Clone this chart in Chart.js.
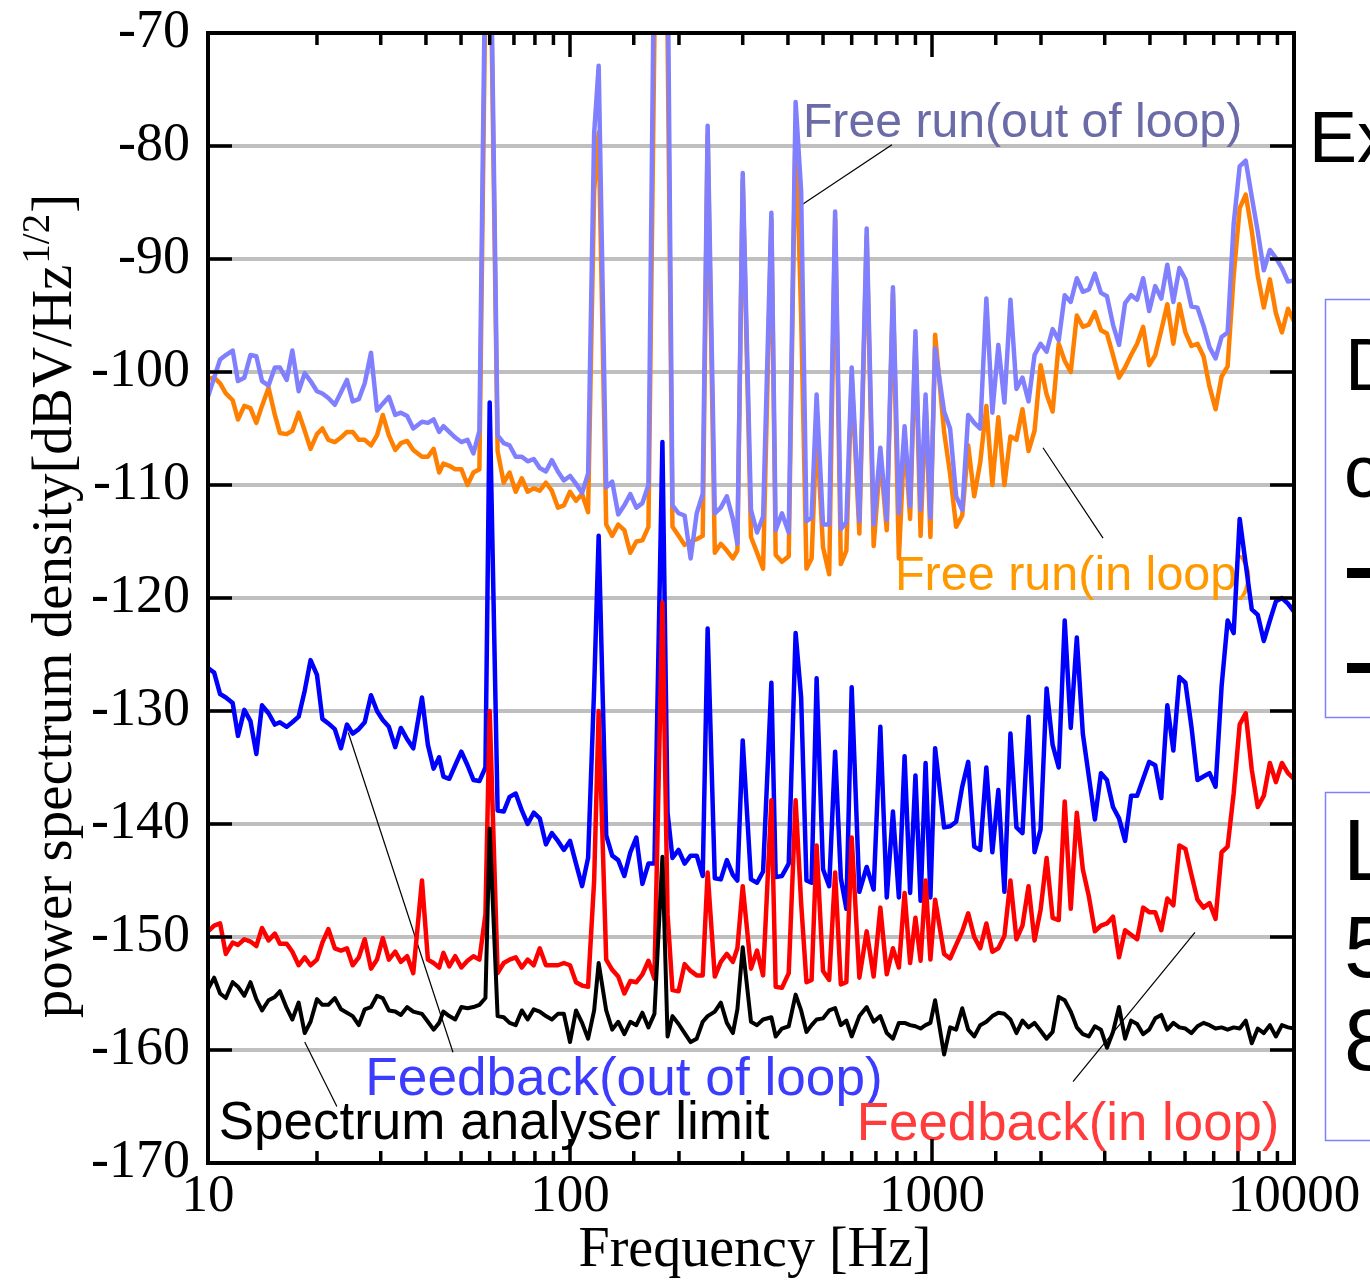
<!DOCTYPE html>
<html>
<head>
<meta charset="utf-8">
<title>Power spectrum density</title>
<script src="https://cdn.jsdelivr.net/npm/chart.js"></script>
<style>
  html, body { margin: 0; padding: 0; background: #fff; }
  canvas { display: block; }
</style>
</head>
<body>
<canvas id="psd" width="1370" height="1281"></canvas>
<script>
// frequency grid shared by every trace [Hz]
const freqHz = [
  10, 10.4, 10.8, 11.2, 11.7, 12.1, 12.6, 13.1, 13.6, 14.1,
  14.7, 15.3, 15.8, 16.5, 17.1, 17.8, 18.5, 19.2, 20, 20.7,
  21.5, 22.4, 23.3, 24.2, 25.1, 26.1, 27.1, 28.2, 29.3, 30.4,
  31.6, 32.9, 34.1, 35.5, 36.9, 39, 40.5, 42, 43.5, 44.7,
  46.4, 48.2, 50.1, 52.1, 54.1, 56.2, 58.4, 60, 63.1, 65.6,
  68.1, 70.8, 73.6, 76.4, 79.4, 82.5, 85.8, 89.1, 92.6, 96.2,
  100, 103.9, 108, 112.2, 116.6, 120, 125.9, 130.8, 135.9, 141.3,
  146.8, 152.5, 158.5, 164.7, 171.1, 180, 186, 191.9, 199.5, 207.3,
  215.4, 223.9, 232.6, 240, 251.2, 261, 271.2, 281.8, 290, 300,
  316.2, 328.6, 341.5, 360, 370, 385, 402, 420, 435, 450,
  465, 480, 500, 520, 540, 560, 580, 600, 630, 660,
  690, 720, 750, 780, 810, 840, 870, 900, 930, 960,
  990, 1020, 1080, 1122, 1166, 1212, 1259, 1308, 1359, 1413,
  1468, 1525, 1585, 1647, 1711, 1778, 1848, 1920, 1995, 2073,
  2154, 2239, 2326, 2417, 2512, 2610, 2712, 2818, 2929, 3043,
  3162, 3286, 3415, 3548, 3687, 3831, 3981, 4137, 4299, 4467,
  4642, 4823, 5012, 5208, 5412, 5623, 5843, 6072, 6310, 6556,
  6813, 7079, 7356, 7644, 7943, 8254, 8577, 8913, 9261, 9624,
  10000
];

// dBV/Hz^1/2, one value per frequency
const freeRunOutLoop = [
  -102.2, -100.5, -98.9, -98.5, -98.1, -100.8, -100.5, -98.5, -98.6, -100.8,
  -101.2, -99.6, -99.6, -100.7, -98.1, -101.7, -100.1, -100.8, -101.7, -101.9,
  -102.3, -102.9, -101.8, -100.7, -102.6, -102.4, -101, -98.3, -103.4, -102.8,
  -102.2, -103.8, -103.6, -103.9, -105, -104.4, -104.5, -104.2, -105.3, -104.8,
  -105.3, -105.8, -106.2, -106, -107.2, -105.2, -62, -55, -105.6, -106.3,
  -106.5, -107.5, -107.5, -107.9, -107.7, -108.5, -108.8, -107.8, -108.8, -109.6,
  -109.2, -109.9, -110.7, -109, -78.9, -72.9, -110.2, -109.7, -112.6, -111.8,
  -110.8, -112, -111.6, -110, -60, -50, -62, -111.8, -112.5, -112.7,
  -116.5, -112.5, -110.8, -78.2, -112.5, -112, -111, -113, -115.2, -82.4,
  -112.2, -114.2, -112.8, -85.9, -114, -112.5, -114.2, -76.1, -84, -113.2,
  -112.9, -102, -113.5, -113.5, -85.8, -113.9, -113.3, -99.6, -113.2, -87.3,
  -113.5, -106.7, -113.1, -92.5, -112.5, -104.8, -111.9, -96.4, -112.2, -102,
  -112.9, -97.9, -103.5, -105, -111, -112.2, -103.8, -104.5, -105, -93.5,
  -103.6, -97.6, -102.7, -93.6, -101.5, -100.5, -102.6, -98.5, -97.5, -98.2,
  -96.2, -97.2, -93.2, -93.8, -91.7, -92.9, -92.7, -91.3, -93, -93.3,
  -95.8, -97.6, -93.9, -93.2, -93.6, -91.7, -94.6, -92.4, -93.5, -90.5,
  -93.8, -90.8, -91.8, -94.2, -94.3, -95.9, -97.8, -98.8, -96.9, -96.5,
  -86.9, -81.8, -81.3, -84.5, -87.6, -91, -89.2, -89.9, -90.8, -92,
  -91.9
];

const freeRunInLoop = [
  -100.6, -100.5, -101, -101.9, -102.5, -104.2, -103, -103.2, -104.5, -103,
  -101.4, -103.8, -105.4, -105.5, -105.2, -103.6, -105.2, -106.8, -105.5, -105,
  -106, -106.2, -105.8, -105.3, -105.3, -106, -106, -106.5, -105.6, -103.8,
  -105.6, -106.9, -106.3, -106.1, -106.9, -107.5, -107.5, -106.8, -108.9, -108.1,
  -108.3, -108.6, -108.6, -110, -108.9, -108.6, -66, -58, -107, -109.8,
  -108.9, -110.6, -109.4, -110.6, -110.3, -110.5, -109.8, -110.5, -112, -111.8,
  -110.6, -111.4, -110.8, -112.4, -84, -78.8, -113.5, -114.5, -113.5, -114,
  -116, -115, -114.9, -113.7, -70, -55, -70, -113.7, -114.5, -115.3,
  -115, -114.8, -114.5, -79, -116, -115.2, -115.8, -116.5, -115.8, -83,
  -114.6, -116, -117.4, -86.5, -116.2, -116.8, -116.3, -78, -95, -117.4,
  -116.5, -105, -115.5, -117.9, -86.5, -117, -115.8, -100.5, -114.3, -88,
  -115.4, -107.5, -114, -93, -116.5, -105.5, -113, -97, -114.5, -102.5,
  -114.6, -96.7, -105.3, -109, -113.7, -112.7, -106.5, -111, -108, -103,
  -110, -104, -110, -105.7, -106, -103.3, -107, -105.2, -99.4, -102,
  -103.5, -97.5, -99, -100, -95, -96, -95.8, -94.7, -96.3, -96.6,
  -98.5, -100.5, -99.6, -98.5, -97.5, -96, -99.4, -98.5, -96.3, -94,
  -97.5, -94, -96.5, -97.7, -97.5, -98.6, -101.3, -103.3, -100.4, -99.5,
  -91.5, -85.5, -84.3, -87.5, -91.5, -94.3, -91.8, -94.8, -96.5, -94.4,
  -95.5
];

const feedbackOutLoop = [
  -126.2, -126.6, -128.5, -128.8, -129.3, -132.2, -129.9, -130.9, -133.8, -129.5,
  -130.2, -131.2, -131, -131.4, -131, -130.5, -128.2, -125.5, -126.8, -130.7,
  -131.1, -131.6, -133.3, -131.2, -132, -131.6, -131, -128.6, -130, -130.8,
  -131.4, -133.2, -131.5, -132.5, -133.3, -128.8, -133, -135.1, -134.1, -135.8,
  -136, -134.8, -133.6, -134.8, -136.1, -136.2, -135, -102.7, -138.8, -138.9,
  -137.6, -137.3, -138.8, -140, -139, -139.5, -141.8, -140.8, -141.5, -142.3,
  -141.5, -143.5, -145.5, -143, -128, -114.5, -141, -142.8, -143.2, -144.6,
  -142.5, -141.2, -145.3, -143.5, -143.5, -106.2, -139, -143, -142.3, -143.5,
  -142.8, -142.8, -144.6, -122.7, -144.8, -144.9, -143.2, -144.5, -145, -132.6,
  -144.9, -145.2, -144.2, -127.5, -144.7, -144.6, -143.5, -123.1, -128.8, -145,
  -145.2, -127.1, -144, -145.5, -133.6, -144.8, -147.5, -127.9, -146, -143.8,
  -145.8, -131.4, -146.5, -138.9, -146.5, -134, -146.1, -135.7, -146.8, -134.6,
  -146.5, -133.3, -140.3, -140.2, -139.8, -136.7, -134.5, -142, -142.3, -135,
  -142.5, -137, -146, -132, -140.3, -140.8, -130.5, -142.5, -140.5, -128,
  -133, -135, -122, -131.5, -123.5, -132, -135.8, -139.6, -135.5, -136.1,
  -138.5, -139.5, -141.5, -137.5, -137.5, -136, -134.5, -134.8, -137.7, -129.5,
  -133.5, -127, -127.5, -131.4, -136.1, -135.8, -135.5, -136.7, -127.8, -122,
  -123.1, -113, -117, -121, -121.5, -123.8, -122, -120.3, -120, -120.5,
  -121.2
];

const feedbackInLoop = [
  -149.5, -149, -148.8, -151.5, -150.5, -150.7, -150.2, -150.4, -150.8, -149.2,
  -150.3, -149.7, -150.6, -150.6, -151.3, -152.5, -151.8, -152.5, -152, -150.5,
  -149.3, -151, -151.2, -151, -152.5, -151.8, -150.2, -152.8, -152, -150.1,
  -152, -151.3, -152.2, -151.7, -153.2, -145, -152, -152.3, -152.7, -151.4,
  -152.6, -151.7, -152.7, -152.1, -151.7, -152, -148, -130, -153.2, -152.3,
  -152, -151.8, -152.7, -152, -152.5, -151, -152.5, -152.5, -152.5, -152.3,
  -152.5, -154, -154.3, -154.4, -145, -130, -152, -152.9, -153.5, -155,
  -153.9, -154, -153.3, -152.1, -153.7, -120.4, -148, -154.7, -154.8, -152.4,
  -153, -153.4, -153.4, -144.3, -153.5, -152.2, -151.5, -152.2, -151, -145.5,
  -152.8, -151.2, -153.4, -137.9, -154.4, -154.5, -153.2, -137.9, -147, -154,
  -153.8, -141.9, -153, -153.8, -144.3, -154.2, -154, -141.2, -153.6, -149.5,
  -153.5, -147.4, -153.3, -151, -152.7, -146.1, -152.3, -148.3, -152.1, -145,
  -152, -146.7, -151.5, -151.9, -150.7, -149.5, -147.9, -150, -151, -148.8,
  -151.3, -151, -149.9, -145, -150.2, -149, -145.5, -150.3, -147.6, -143,
  -148.3, -148.5, -138, -147.5, -139, -144, -146.4, -149.5, -149, -148.8,
  -148.2, -151.8, -149.4, -149.8, -150.2, -147.4, -147.8, -147.8, -149.4, -146.6,
  -147.2, -141.9, -142.2, -144.5, -146.7, -147.4, -147, -148.4, -142.5, -142,
  -137.3, -131.2, -130.2, -135.2, -138.5, -137.5, -134.6, -136.3, -134.6, -135.5,
  -136
];

const analyserLimit = [
  -154.6, -153.6, -155, -155.4, -154, -154.4, -155.2, -154, -155.5, -156.5,
  -155.6, -155.3, -154.8, -156.3, -157.3, -155.8, -158.5, -157.5, -155.5, -156,
  -156, -155.4, -156.4, -156.7, -157, -157.8, -156.4, -156.2, -155.2, -155.4,
  -156.5, -156.6, -156.9, -156.2, -156.6, -156.8, -157.5, -158.2, -157.6, -156.6,
  -157, -157.3, -156.2, -156.3, -156.2, -156, -155.4, -140.4, -157, -157.1,
  -157.6, -157.8, -156.5, -157.3, -156.4, -156.6, -157, -157.3, -156.8, -156.8,
  -159.3, -156.5, -157.6, -159, -156.5, -152.3, -156.5, -158.2, -157.5, -158.6,
  -157.5, -157.8, -156.7, -158, -156.8, -142.9, -158.8, -157, -157.7, -158.5,
  -159.3, -159, -157.5, -157, -156.6, -155.8, -157.6, -158.5, -156.4, -150.9,
  -157.5, -157.8, -157.3, -157.1, -158.8, -158.1, -157.9, -155.1, -156.5, -158.4,
  -157.8, -157.3, -157.2, -156.5, -156.3, -157.8, -157.4, -158.8, -157, -156.2,
  -157.5, -157, -158.5, -159, -157.6, -157.6, -157.8, -157.9, -158.1, -157.8,
  -157.6, -155.6, -160.4, -158, -158.2, -156.3, -158.2, -158.8, -157.8, -157.5,
  -157, -156.7, -156.8, -157.3, -158.5, -157.4, -158, -157.6, -158.3, -159,
  -158.4, -155.3, -155.6, -156.6, -158, -158.6, -158.8, -157.9, -158.2, -159.8,
  -158.4, -156.2, -159, -157.4, -157.7, -158.6, -158.2, -157.2, -156.9, -158.2,
  -157.6, -158, -158.1, -158.5, -157.9, -157.6, -157.8, -158.1, -158, -158.2,
  -158, -158.1, -157.4, -159.4, -158.1, -158.5, -157.8, -158.8, -157.8, -158,
  -158.1
];

// labelled decades on the frequency axis
const xTickLabels = [10, 100, 1000, 10000];

// callouts: text anchor and leader line, in data units (Hz, dB)
const notes = [
  { text: 'Free run(out of loop)', color: '#6b6ba8', size: 48.2, at: [440, -79.2], from: [775, -79.9], to: [437, -85.2] },
  { text: 'Free run(in loop)', color: '#ff9900', size: 48.5, at: [790, -119.3], from: [2026, -106.7], to: [2968, -114.7] },
  { text: 'Feedback(out of loop)', color: '#3c3cff', size: 53.2, at: [27.2, -164.0], from: [24.4, -131.9], to: [47.5, -160.2] },
  { text: 'Spectrum analyser limit', color: '#000000', size: 53, at: [10.7, -167.9], from: [18.5, -159.3], to: [22.7, -165.0] },
  { text: 'Feedback(in loop)', color: '#ff3b3b', size: 52.8, at: [620, -168.0], from: [5327, -149.6], to: [2452, -162.8] }
];

function series(values) {
  return freqHz.map((f, i) => ({ x: f, y: values[i] }));
}

function line(ctx, x1, y1, x2, y2) {
  ctx.beginPath();
  ctx.moveTo(x1, y1);
  ctx.lineTo(x2, y2);
  ctx.stroke();
}

// callouts go under the traces, frame and inward ticks on top
const paperLook = {
  id: 'paperLook',
  beforeDatasetsDraw(chart) {
    const { ctx, scales: { x, y } } = chart;
    ctx.save();
    for (const n of notes) {
      ctx.strokeStyle = '#000';
      ctx.lineWidth = 1.2;
      line(ctx, x.getPixelForValue(n.from[0]), y.getPixelForValue(n.from[1]),
        x.getPixelForValue(n.to[0]), y.getPixelForValue(n.to[1]));
      ctx.font = n.size + 'px "Liberation Sans", Arial, sans-serif';
      ctx.fillStyle = n.color;
      ctx.textAlign = 'left';
      ctx.textBaseline = 'alphabetic';
      ctx.fillText(n.text, x.getPixelForValue(n.at[0]), y.getPixelForValue(n.at[1]));
    }
    ctx.restore();
  },
  afterDatasetsDraw(chart) {
    const { ctx, chartArea: a, scales: { x, y } } = chart;
    ctx.save();
    ctx.strokeStyle = '#000';
    ctx.lineWidth = 4;
    ctx.strokeRect(a.left, a.top, a.right - a.left, a.bottom - a.top);
    ctx.lineWidth = 3.5;
    for (const t of y.ticks) {
      const py = y.getPixelForValue(t.value);
      const len = t.value % 10 === 0 ? 24 : 12;
      line(ctx, a.left, py, a.left + len, py);
      line(ctx, a.right - len, py, a.right, py);
    }
    for (const t of x.ticks) {
      const px = x.getPixelForValue(t.value);
      const major = Math.abs(Math.log10(t.value) - Math.round(Math.log10(t.value))) < 1e-6;
      const len = major ? 24 : 12;
      line(ctx, px, a.bottom, px, a.bottom - len);
      line(ctx, px, a.top, px, a.top + len);
    }
    ctx.restore();
  },
  afterDraw(chart) {
    const { ctx } = chart;
    ctx.save();
    ctx.fillStyle = '#000';
    ctx.textBaseline = 'alphabetic';

    // axis titles
    ctx.font = '56px "Liberation Serif", "Times New Roman", serif';
    ctx.textAlign = 'center';
    ctx.fillText('Frequency [Hz]', 755, 1266);

    const head = 'power spectrum density[dBV/Hz', sup = '1/2', tail = ']';
    const big = '57px "Liberation Serif", "Times New Roman", serif';
    const small = '39px "Liberation Serif", "Times New Roman", serif';
    ctx.font = big;
    const w1 = ctx.measureText(head).width, w3 = ctx.measureText(tail).width;
    ctx.font = small;
    const w2 = ctx.measureText(sup).width;
    ctx.translate(71, 607);
    ctx.rotate(-Math.PI / 2);
    ctx.textAlign = 'left';
    let sx = -(w1 + w2 + w3) / 2;
    ctx.font = big;
    ctx.fillText(head, sx, 0);
    ctx.font = small;
    ctx.fillText(sup, sx + w1 + 1, -22);
    ctx.font = big;
    ctx.fillText(tail, sx + w1 + w2 + 2, 0);
    ctx.setTransform(1, 0, 0, 1, 0, 0);

    // neighbouring panel, cut by the frame edge
    ctx.font = '72px "Liberation Sans", Arial, sans-serif';
    ctx.fillText('Ex', 1309, 162);
    ctx.strokeStyle = '#8080ff';
    ctx.lineWidth = 1.5;
    ctx.strokeRect(1325.5, 299.5, 120, 418);
    ctx.strokeRect(1325.5, 792.5, 120, 348);
    ctx.font = '74px "Liberation Sans", Arial, sans-serif';
    ctx.fillText('D', 1345, 390);
    ctx.fillText('c', 1344, 497);
    ctx.fillRect(1347, 568, 40, 10);
    ctx.fillRect(1347, 663, 40, 10);
    ctx.font = '88px "Liberation Sans", Arial, sans-serif';
    ctx.fillText('L', 1343, 880);
    ctx.fillText('5', 1344, 977);
    ctx.fillText('8', 1344, 1070);
    ctx.restore();
  }
};

const traceStyle = { pointRadius: 0, tension: 0, fill: false, clip: 0, borderJoinStyle: 'round' };

new Chart(document.getElementById('psd'), {
  type: 'line',
  data: {
    datasets: [
      { ...traceStyle, label: 'Spectrum analyser limit', data: series(analyserLimit), borderColor: '#000000', borderWidth: 4 },
      { ...traceStyle, label: 'Feedback(in loop)', data: series(feedbackInLoop), borderColor: '#ff0000', borderWidth: 4.5 },
      { ...traceStyle, label: 'Feedback(out of loop)', data: series(feedbackOutLoop), borderColor: '#0000ff', borderWidth: 4.5 },
      { ...traceStyle, label: 'Free run(out of loop)', data: series(freeRunOutLoop), borderColor: '#8080ff', borderWidth: 4.5 },
      { ...traceStyle, label: 'Free run(in loop)', data: series(freeRunInLoop), borderColor: '#ff8000', borderWidth: 4.5 }
    ]
  },
  options: {
    responsive: false,
    devicePixelRatio: 1,
    animation: false,
    layout: { padding: { top: 33, right: 76, bottom: 0, left: 0 } },
    plugins: { legend: { display: false }, title: { display: false }, tooltip: { enabled: false } },
    scales: {
      x: {
        type: 'logarithmic',
        min: 10,
        max: 10000,
        grid: { display: false, drawTicks: false },
        border: { display: false },
        ticks: {
          autoSkip: false,
          maxRotation: 0,
          padding: 2,
          color: '#000',
          font: { family: '"Liberation Serif", "Times New Roman", serif', size: 53 },
          callback: (v) => xTickLabels.includes(v) ? String(v) : ''
        },
        afterFit: (s) => { s.height = 118; s.paddingLeft = 0; s.paddingRight = 0; }
      },
      y: {
        type: 'linear',
        min: -170,
        max: -70,
        grid: {
          drawTicks: false,
          color: (c) => c.tick && c.tick.value % 10 === 0 ? '#bfbfbf' : '#c8c8c8',
          lineWidth: (c) => c.tick && c.tick.value % 10 === 0 ? 4 : 2.5
        },
        border: { display: false },
        ticks: {
          stepSize: 5,
          padding: 18,
          color: '#000',
          font: { family: '"Liberation Serif", "Times New Roman", serif', size: 54 },
          callback: (v) => v % 10 === 0 ? String(v) : ''
        },
        afterFit: (s) => { s.width = 208; s.paddingTop = 0; s.paddingBottom = 0; }
      }
    }
  },
  plugins: [paperLook]
});
</script>
</body>
</html>
